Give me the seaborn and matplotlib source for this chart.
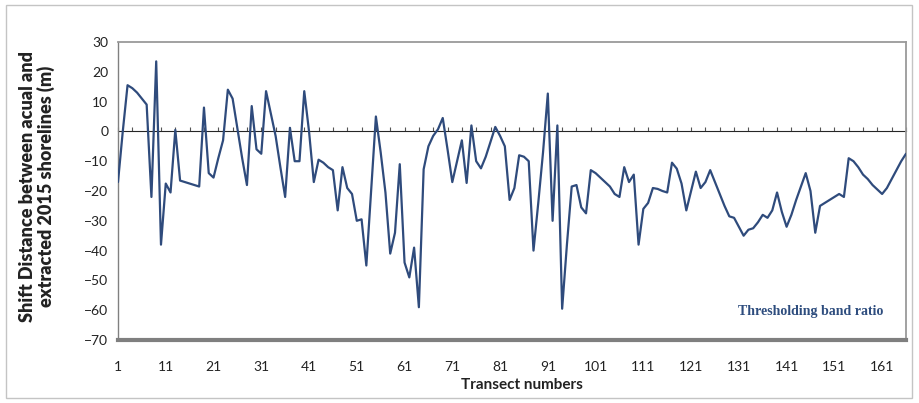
import numpy as np
import pandas as pd
import matplotlib
matplotlib.use("Agg")
import matplotlib.pyplot as plt
import seaborn as sns
from matplotlib.patches import Rectangle
from matplotlib.ticker import MultipleLocator

# Transect index along the coast
transects = list(range(1, 167))

# Shift distance (m) between actual and extracted 2015 shorelines
shift_m = [
    -17, 0, 15.5, 14.5, 13, 11, 9, -22, 23.5, -38,
    -17.5, -20.5, 0.5, -16.5, -17, -17.5, -18, -18.5, 8, -14,
    -15.5, -9, -3, 14, 11, 1, -9, -18, 8.5, -6,
    -7.5, 13.5, 6, -1.5, -12, -22, 1.2, -10, -10, 13.5,
    0, -17, -9.5, -10.5, -12, -13, -26.5, -12, -19, -21,
    -30, -29.5, -45, -20, 5, -7, -20.5, -41, -34, -11,
    -44, -49, -39, -59, -12.7, -5, -1.5, 0.7, 4.5, -6,
    -17, -10, -3, -17.3, 2, -10, -12.4, -8.5, -3.5, 1.5,
    -1.5, -5, -23, -19, -8, -8.5, -10, -40, -24, -7,
    12.7, -30, 2, -59.5, -38, -18.5, -18, -25.5, -27.5, -13,
    -14, -15.5, -17, -18.5, -21, -22, -12, -17, -14.5, -38,
    -26, -24, -19, -19.3, -20, -20.5, -10.5, -12.5, -17.5, -26.5,
    -20, -13.5, -19, -17, -13, -17, -21, -25, -28.5, -29,
    -32, -35, -33, -32.5, -30.5, -28, -29, -26.5, -20.5, -27,
    -32, -28, -23, -18.5, -14, -20, -34, -25, -24, -23,
    -22, -21, -22, -9, -10, -12, -14.5, -16, -18, -19.5,
    -21, -19, -16, -13, -10, -7.5,
]

x_ticks = list(range(1, 162, 10))
y_ticks = list(range(-70, 31, 10))

LINE = "#2f4b7c"

sns.set_style("white")
plt.rcParams["font.family"] = ["Lato", "DejaVu Sans"]

fig = plt.figure(figsize=(9.19, 4.03), dpi=100)
W, H = 919, 403
ax = fig.add_axes([118 / W, 1 - 340 / H, (906 - 118) / W, (340 - 42) / H])

df = pd.DataFrame({"Transect": transects, "Shift": shift_m})
sns.lineplot(data=df, x="Transect", y="Shift", ax=ax, color=LINE,
             linewidth=1.6, zorder=3)

ax.set_xlim(1, 166)
ax.set_ylim(-70, 30)
ax.set_xticks(x_ticks)
ax.set_yticks(y_ticks)
ax.set_xlabel("")
ax.set_ylabel("")
ax.tick_params(axis="x", length=0, pad=15, labelsize=10, colors="#222222")
ax.tick_params(axis="y", length=3, pad=7, labelsize=10, colors="#222222",
               direction="in")
ax.yaxis.set_minor_locator(MultipleLocator(2))
ax.tick_params(axis="y", which="minor", length=2, color="#777777",
               direction="in")

# Plot-area frame
for side in ("top", "right"):
    ax.spines[side].set_color("#9a9a9a")
    ax.spines[side].set_linewidth(1.3)
ax.spines["bottom"].set_color("#7f7f7f")
ax.spines["bottom"].set_linewidth(3)
ax.spines["left"].set_color("#808080")
ax.spines["left"].set_linewidth(1)
ax.spines["left"].set_linestyle((0, (1, 1)))

# Category axis crossing at zero (ticks only, no labels)
zero_axis = ax.secondary_xaxis(0.7)
zero_axis.spines["bottom"].set_color("#222222")
zero_axis.spines["bottom"].set_linewidth(1.1)
zero_axis.set_xticks(list(range(1, 167, 3)))
zero_axis.set_xticklabels([])
zero_axis.tick_params(axis="x", length=3, width=0.8, direction="out",
                      labelbottom=False, labeltop=False, color="#555555")

ax.text(146, -60.5, "Thresholding band ratio", ha="center", va="center",
        fontsize=10, fontweight="bold", color="#2e4d7e",
        family=["Liberation Serif", "DejaVu Serif"])

fig.text(37 / W, 1 - 186 / H,
         "Shift Distance between acual and\nextracted 2015 shorelines (m)",
         rotation=90, ha="center", va="center", multialignment="center",
         fontsize=13, fontweight="heavy", color="#222222", linespacing=1.05)
fig.text(522 / W, 1 - 385 / H, "Transect numbers", ha="center", va="center",
         fontsize=11, fontweight="bold", color="#222222")

# Chart border
fig.add_artist(Rectangle((6 / W, 5 / H), (912 - 6) / W, (398 - 5) / H,
                         transform=fig.transFigure, fill=False,
                         edgecolor="#c4c4c4", linewidth=1))

fig.savefig("out.png", dpi=100)
